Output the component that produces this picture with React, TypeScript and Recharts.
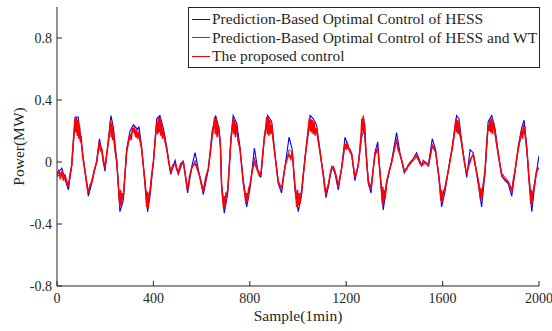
import { LineChart, Line, XAxis, YAxis, Legend } from "recharts";

type Pt = [number, number];

const xTicks = [0, 400, 800, 1200, 1600, 2000];
const yTicks = [-0.8, -0.4, 0, 0.4, 0.8];

const seriesNames = [
  "Prediction-Based Optimal Control of HESS",
  "Prediction-Based Optimal Control of HESS and WT",
  "The proposed control",
];
const seriesColors = ["#0000ff", "#7e2f8e", "#ff0000"];

// Sample, Power (MW)
const hessOnly: Pt[] = [
  [0, -0.08], [20, -0.04], [33, -0.11], [47, -0.18], [61, -0.02], [75, 0.29], [88, 0.29], [100, 0.14],
  [116, -0.06], [130, -0.22], [144, -0.14], [165, 0.01], [176, 0.15], [185, 0.08], [199, -0.06], [213, 0.14],
  [224, 0.3], [234, 0.22], [248, 0.01], [261, -0.32], [275, -0.25], [289, 0.08], [303, 0.2], [317, 0.24],
  [335, 0.21], [340, 0.23], [351, 0.1], [365, -0.14], [376, -0.32], [386, -0.22], [400, 0.0], [414, 0.28],
  [427, 0.3], [441, 0.22], [455, 0.1], [472, -0.08], [490, 0.01], [503, -0.08], [524, 0.01], [542, -0.2],
  [559, -0.03], [573, 0.06], [593, -0.1], [607, -0.21], [628, -0.05], [644, 0.2], [658, 0.3], [672, 0.22],
  [678, 0.12], [683, -0.16], [694, -0.33], [708, -0.21], [722, 0.16], [731, 0.3], [746, 0.25], [759, 0.1],
  [773, -0.14], [787, -0.29], [801, -0.17], [819, 0.09], [833, -0.05], [846, -0.1], [860, 0.16], [874, 0.3],
  [891, 0.26], [904, 0.06], [918, -0.14], [932, -0.2], [946, -0.03], [963, 0.16], [976, 0.08], [987, -0.17],
  [1001, -0.32], [1015, -0.21], [1029, 0.03], [1050, 0.3], [1063, 0.28], [1077, 0.24], [1091, 0.08],
  [1105, -0.09], [1116, -0.23], [1126, -0.16], [1140, -0.03], [1153, -0.07], [1167, -0.18], [1181, -0.04],
  [1195, 0.16], [1209, 0.1], [1223, 0.05], [1236, -0.12], [1250, -0.02], [1264, 0.2], [1273, 0.28],
  [1281, 0.1], [1292, -0.14], [1303, -0.2], [1319, 0.06], [1331, 0.13], [1336, 0.02], [1347, -0.21],
  [1354, -0.31], [1368, -0.14], [1389, 0.01], [1409, 0.19], [1423, 0.06], [1441, -0.07], [1458, -0.02],
  [1474, 0.01], [1492, 0.06], [1513, -0.02], [1527, 0.0], [1541, -0.02], [1557, 0.15], [1571, 0.08],
  [1585, -0.11], [1596, -0.29], [1610, -0.19], [1623, -0.06], [1640, 0.1], [1658, 0.3], [1668, 0.28],
  [1682, 0.1], [1700, -0.1], [1714, 0.08], [1727, 0.06], [1745, -0.11], [1762, -0.29], [1776, -0.07],
  [1789, 0.26], [1804, 0.3], [1817, 0.22], [1831, 0.06], [1845, -0.09], [1859, -0.12], [1872, -0.14],
  [1887, -0.22], [1900, -0.07], [1914, 0.1], [1928, 0.22], [1938, 0.27], [1949, 0.1], [1958, -0.11],
  [1970, -0.32], [1983, -0.14], [1994, -0.02], [2000, 0.04],
];

const hessAndWt: Pt[] = [
  [0, -0.1], [20, -0.06], [33, -0.09], [47, -0.15], [61, -0.03], [75, 0.25], [88, 0.24], [100, 0.12],
  [116, -0.05], [130, -0.19], [144, -0.12], [165, 0.0], [176, 0.12], [185, 0.09], [199, -0.03], [213, 0.12],
  [224, 0.25], [234, 0.17], [248, 0.0], [261, -0.28], [275, -0.22], [289, 0.06], [303, 0.17], [317, 0.2],
  [335, 0.15], [340, 0.17], [351, 0.08], [365, -0.12], [376, -0.27], [386, -0.18], [400, 0.0], [414, 0.24],
  [427, 0.27], [441, 0.18], [455, 0.08], [472, -0.06], [490, -0.01], [503, -0.06], [524, 0.0], [542, -0.17],
  [559, -0.04], [573, 0.01], [593, -0.09], [607, -0.18], [628, -0.04], [644, 0.16], [658, 0.27], [672, 0.18],
  [678, 0.1], [683, -0.14], [694, -0.28], [708, -0.18], [722, 0.14], [731, 0.26], [746, 0.21], [759, 0.08],
  [773, -0.12], [787, -0.25], [801, -0.14], [819, 0.03], [833, -0.05], [846, -0.08], [860, 0.14], [874, 0.27],
  [891, 0.22], [904, 0.05], [918, -0.12], [932, -0.17], [946, -0.03], [963, 0.08], [976, 0.06], [987, -0.14],
  [1001, -0.27], [1015, -0.18], [1029, 0.02], [1050, 0.26], [1063, 0.24], [1077, 0.2], [1091, 0.06],
  [1105, -0.07], [1116, -0.2], [1126, -0.14], [1140, -0.04], [1153, -0.06], [1167, -0.15], [1181, -0.04],
  [1195, 0.11], [1209, 0.08], [1223, 0.04], [1236, -0.09], [1250, -0.02], [1264, 0.15], [1273, 0.22],
  [1281, 0.08], [1292, -0.12], [1303, -0.16], [1319, 0.04], [1331, 0.08], [1336, 0.01], [1347, -0.18],
  [1354, -0.26], [1368, -0.12], [1389, 0.0], [1409, 0.14], [1423, 0.05], [1441, -0.05], [1458, -0.03],
  [1474, 0.0], [1492, 0.03], [1513, -0.03], [1527, -0.01], [1541, -0.03], [1557, 0.1], [1571, 0.06],
  [1585, -0.09], [1596, -0.24], [1610, -0.16], [1623, -0.06], [1640, 0.08], [1658, 0.26], [1668, 0.24],
  [1682, 0.08], [1700, -0.08], [1714, 0.02], [1727, 0.04], [1745, -0.09], [1762, -0.22], [1776, -0.06],
  [1789, 0.22], [1804, 0.26], [1817, 0.18], [1831, 0.04], [1845, -0.07], [1859, -0.1], [1872, -0.12],
  [1887, -0.18], [1900, -0.06], [1914, 0.08], [1928, 0.18], [1938, 0.22], [1949, 0.08], [1958, -0.09],
  [1970, -0.25], [1983, -0.12], [1994, -0.05], [2000, -0.05],
];

const proposed: Pt[] = [
  [0, -0.09], [8, -0.05], [14, -0.11], [20, -0.06], [27, -0.12], [33, -0.08], [40, -0.13], [47, -0.16],
  [54, -0.08], [61, -0.02], [67, 0.12], [72, 0.22], [75, 0.28], [78, 0.19], [81, 0.29], [84, 0.17],
  [87, 0.27], [90, 0.15], [93, 0.24], [97, 0.13], [100, 0.17], [106, 0.04], [116, -0.06], [123, -0.14],
  [130, -0.2], [137, -0.15], [144, -0.13], [155, -0.05], [165, 0.0], [171, 0.08], [176, 0.13], [180, 0.07],
  [185, 0.09], [192, 0.0], [199, -0.04], [206, 0.05], [213, 0.13], [218, 0.2], [222, 0.27], [225, 0.16],
  [228, 0.25], [231, 0.14], [234, 0.2], [240, 0.08], [248, 0.0], [254, -0.14], [258, -0.22], [261, -0.29],
  [264, -0.18], [267, -0.28], [271, -0.2], [275, -0.23], [282, -0.08], [289, 0.07], [296, 0.13], [303, 0.18],
  [308, 0.14], [313, 0.22], [317, 0.19], [321, 0.23], [326, 0.16], [330, 0.21], [335, 0.15], [340, 0.2],
  [345, 0.14], [351, 0.09], [358, -0.02], [365, -0.13], [369, -0.22], [372, -0.29], [375, -0.19],
  [378, -0.3], [381, -0.21], [386, -0.19], [393, -0.08], [400, 0.0], [407, 0.14], [414, 0.26], [418, 0.18],
  [421, 0.29], [424, 0.19], [427, 0.29], [431, 0.17], [434, 0.25], [438, 0.15], [441, 0.2], [448, 0.14],
  [455, 0.09], [463, 0.0], [472, -0.07], [480, -0.02], [490, -0.01], [497, -0.05], [503, -0.07], [513, -0.01],
  [524, 0.0], [533, -0.09], [538, -0.15], [542, -0.18], [550, -0.09], [559, -0.04], [566, -0.02], [573, -0.01],
  [583, -0.05], [593, -0.1], [600, -0.15], [607, -0.19], [617, -0.1], [628, -0.04], [636, 0.06], [644, 0.18],
  [650, 0.23], [654, 0.29], [657, 0.18], [660, 0.28], [664, 0.16], [668, 0.24], [672, 0.2], [678, 0.11],
  [683, -0.15], [688, -0.24], [691, -0.3], [694, -0.22], [697, -0.3], [701, -0.2], [708, -0.19], [715, -0.03],
  [722, 0.15], [727, 0.22], [731, 0.28], [734, 0.18], [737, 0.27], [740, 0.16], [743, 0.25], [746, 0.2],
  [752, 0.13], [759, 0.09], [766, -0.02], [773, -0.13], [780, -0.21], [784, -0.27], [787, -0.2], [790, -0.26],
  [795, -0.17], [801, -0.15], [810, -0.06], [819, 0.0], [826, -0.03], [833, -0.06], [840, -0.09], [846, -0.08],
  [853, 0.04], [860, 0.15], [866, 0.22], [870, 0.29], [873, 0.18], [876, 0.29], [879, 0.17], [883, 0.27],
  [887, 0.18], [891, 0.24], [897, 0.14], [904, 0.05], [911, -0.04], [918, -0.13], [925, -0.16], [932, -0.17],
  [939, -0.1], [946, -0.03], [955, 0.02], [963, 0.05], [970, 0.02], [976, 0.07], [982, -0.05], [987, -0.15],
  [992, -0.24], [995, -0.29], [998, -0.18], [1001, -0.28], [1004, -0.2], [1008, -0.27], [1015, -0.19],
  [1022, -0.08], [1029, 0.02], [1036, 0.12], [1043, 0.22], [1047, 0.28], [1050, 0.2], [1053, 0.28],
  [1056, 0.19], [1060, 0.27], [1063, 0.18], [1067, 0.26], [1071, 0.17], [1077, 0.22], [1084, 0.14],
  [1091, 0.07], [1098, -0.01], [1105, -0.08], [1110, -0.16], [1116, -0.21], [1121, -0.17], [1126, -0.15],
  [1133, -0.08], [1140, -0.04], [1147, -0.03], [1153, -0.06], [1160, -0.1], [1167, -0.16], [1174, -0.1],
  [1181, -0.04], [1188, 0.04], [1195, 0.12], [1200, 0.08], [1204, 0.13], [1209, 0.09], [1216, 0.08],
  [1223, 0.05], [1230, -0.03], [1236, -0.1], [1243, -0.07], [1250, -0.02], [1257, 0.08], [1262, 0.18],
  [1265, 0.28], [1268, 0.2], [1271, 0.3], [1274, 0.18], [1277, 0.25], [1281, 0.09], [1287, -0.04],
  [1292, -0.13], [1298, -0.16], [1303, -0.17], [1311, -0.06], [1319, 0.05], [1325, 0.07], [1331, 0.09],
  [1336, 0.0], [1342, -0.1], [1347, -0.19], [1350, -0.27], [1352, -0.16], [1354, -0.28], [1357, -0.18],
  [1361, -0.24], [1368, -0.13], [1378, -0.06], [1389, 0.0], [1399, 0.08], [1405, 0.12], [1409, 0.15],
  [1415, 0.08], [1423, 0.05], [1432, 0.0], [1441, -0.06], [1450, -0.05], [1458, -0.02], [1466, 0.0],
  [1474, 0.01], [1483, 0.03], [1492, 0.04], [1500, 0.02], [1507, -0.01], [1513, -0.02], [1520, 0.01],
  [1527, 0.0], [1535, -0.01], [1541, -0.02], [1549, 0.04], [1557, 0.11], [1564, 0.09], [1571, 0.07],
  [1578, -0.02], [1585, -0.1], [1590, -0.19], [1593, -0.25], [1596, -0.18], [1599, -0.26], [1604, -0.19],
  [1610, -0.17], [1617, -0.11], [1623, -0.06], [1632, 0.02], [1640, 0.09], [1648, 0.18], [1653, 0.25],
  [1656, 0.28], [1659, 0.19], [1662, 0.27], [1665, 0.18], [1668, 0.26], [1672, 0.17], [1676, 0.15],
  [1682, 0.09], [1690, 0.0], [1700, -0.08], [1707, -0.03], [1714, 0.0], [1720, 0.03], [1727, 0.05],
  [1736, -0.02], [1745, -0.1], [1752, -0.17], [1757, -0.24], [1760, -0.17], [1762, -0.24], [1768, -0.15],
  [1776, -0.06], [1782, 0.1], [1789, 0.24], [1793, 0.2], [1797, 0.28], [1800, 0.19], [1804, 0.28],
  [1807, 0.18], [1811, 0.25], [1817, 0.2], [1824, 0.12], [1831, 0.05], [1838, -0.02], [1845, -0.08],
  [1852, -0.1], [1859, -0.11], [1866, -0.12], [1872, -0.13], [1880, -0.16], [1887, -0.19], [1893, -0.12],
  [1900, -0.06], [1907, 0.02], [1914, 0.09], [1921, 0.15], [1928, 0.2], [1932, 0.15], [1935, 0.24],
  [1938, 0.18], [1941, 0.23], [1945, 0.14], [1949, 0.09], [1954, 0.0], [1958, -0.1], [1963, -0.19],
  [1966, -0.27], [1968, -0.18], [1970, -0.28], [1974, -0.2], [1979, -0.17], [1983, -0.13], [1988, -0.07],
  [1994, -0.04], [2000, -0.04],
];

const toRows = (pts: Pt[]) => pts.map(([sample, power]) => ({ sample, power }));

const FONT = "'Liberation Serif', 'Times New Roman', serif";
const INK = "#262626";

function LegendBox() {
  return (
    <div
      style={{
        border: `1px solid ${INK}`,
        background: "#fff",
        padding: "2px 2px 1px 3px",
        fontFamily: FONT,
        fontSize: 15.5,
        lineHeight: "18.5px",
        color: INK,
        whiteSpace: "nowrap",
      }}
    >
      {seriesNames.map((name, i) => (
        <div key={name} style={{ display: "flex", alignItems: "center" }}>
          <span
            style={{
              display: "inline-block",
              width: 18,
              height: 0,
              borderTop: `1.3px solid ${seriesColors[i]}`,
              marginRight: 2,
            }}
          />
          {name}
        </div>
      ))}
    </div>
  );
}

// serif tick labels (the default tick text ignores the font family here)
function XTick(props: any) {
  const { x, y, payload } = props;
  return (
    <text x={x} y={y} dy="0.71em" textAnchor="middle" fill={INK} fontSize={14} fontFamily={FONT}>
      {payload.value}
    </text>
  );
}

function YTick(props: any) {
  const { x, y, payload } = props;
  return (
    <text x={x} y={y} dy="0.355em" textAnchor="end" fill={INK} fontSize={14} fontFamily={FONT}>
      {payload.value}
    </text>
  );
}

export default function App() {
  return (
    <div
      style={{
        position: "absolute",
        left: 0,
        top: 0,
        width: 552,
        height: 331,
        background: "#fff",
        fontFamily: FONT,
      }}
    >
      <LineChart width={552} height={331} margin={{ top: 7, right: 13, bottom: 0, left: 0 }}>
        <XAxis
          xAxisId="b"
          type="number"
          dataKey="sample"
          domain={[0, 2000]}
          ticks={xTicks}
          interval={0}
          allowDataOverflow
          height={45}
          tickSize={-5}
          tickMargin={12}
          stroke={INK}
          tick={<XTick />}
          label={{
            value: "Sample(1min)",
            position: "insideBottom",
            offset: 10,
            style: { fill: INK, fontSize: 15.5, fontFamily: FONT },
          }}
        />
        <XAxis
          xAxisId="t"
          orientation="top"
          type="number"
          domain={[0, 2000]}
          ticks={xTicks}
          interval={0}
          allowDataOverflow
          height={0}
          tickSize={-5}
          tick={false}
          stroke={INK}
        />
        <YAxis
          yAxisId="l"
          type="number"
          domain={[-0.8, 1.0]}
          ticks={yTicks}
          interval={0}
          allowDataOverflow
          width={57}
          tickSize={-5}
          tickMargin={10}
          stroke={INK}
          tick={<YTick />}
          label={{
            value: "Power(MW)",
            angle: -90,
            position: "insideLeft",
            offset: 18,
            style: { fill: INK, fontSize: 15.5, fontFamily: FONT, textAnchor: "middle" },
          }}
        />
        <YAxis
          yAxisId="r"
          orientation="right"
          type="number"
          domain={[-0.8, 1.0]}
          ticks={yTicks}
          interval={0}
          allowDataOverflow
          width={0}
          tickSize={-5}
          tick={false}
          stroke={INK}
        />
        <Line
          xAxisId="b"
          yAxisId="l"
          data={toRows(hessOnly)}
          dataKey="power"
          name={seriesNames[0]}
          type="linear"
          stroke={seriesColors[0]}
          strokeWidth={1.1}
          dot={false}
          isAnimationActive={false}
        />
        <Line
          xAxisId="b"
          yAxisId="l"
          data={toRows(hessAndWt)}
          dataKey="power"
          name={seriesNames[1]}
          type="linear"
          stroke={seriesColors[1]}
          strokeWidth={1}
          dot={false}
          isAnimationActive={false}
        />
        <Line
          xAxisId="b"
          yAxisId="l"
          data={toRows(proposed)}
          dataKey="power"
          name={seriesNames[2]}
          type="linear"
          stroke={seriesColors[2]}
          strokeWidth={1.5}
          dot={false}
          isAnimationActive={false}
        />
        <Legend
          layout="horizontal"
          verticalAlign="middle"
          align="center"
          content={() => <LegendBox />}
          wrapperStyle={{ top: 7, left: 188, width: "auto" }}
        />
      </LineChart>
    </div>
  );
}
